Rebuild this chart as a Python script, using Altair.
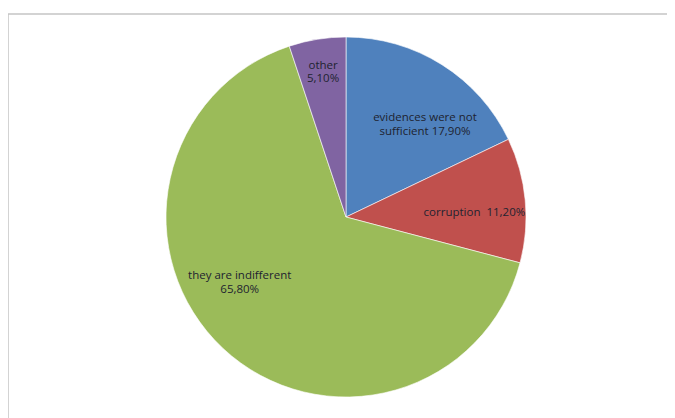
import math
import altair as alt
import pandas as pd

categories = ["evidences were not sufficient", "corruption", "they are indifferent", "other"]
values = [17.9, 11.2, 65.8, 5.1]
labels = ["evidences were not\nsufficient 17,90%", "corruption\u00a0 11,20%",
          "they are indifferent\n65,80%", "other\n5,10%"]
colors = ["#4F81BD", "#C0504D", "#9BBB59", "#8064A2"]

df = pd.DataFrame({"category": categories, "value": values, "label": labels,
                   "order": list(range(len(categories)))})

W, H = 659, 404
CX, CY = 338, 203
R = 180
theta_scale = alt.Scale(domain=[0, 100], range=[0, 2 * math.pi])

base = alt.Chart(df).transform_window(
    cum="sum(value)", sort=[alt.SortField("order")]
).transform_calculate(
    start="datum.cum - datum.value", mid="datum.cum - datum.value / 2"
)

pie = base.mark_arc(outerRadius=R, stroke="white", strokeWidth=0.6).encode(
    theta=alt.Theta("start:Q", scale=theta_scale),
    theta2="cum:Q",
    color=alt.Color("category:N", scale=alt.Scale(domain=categories, range=colors), legend=None),
    x=alt.value(CX), y=alt.value(CY),
)

def label_layer(i, r, dx, dy):
    return base.transform_filter(alt.datum.order == i).mark_text(
        radius=r, dx=dx, dy=dy, lineBreak="\n", font="Open Sans", fontSize=11.5,
        lineHeight=13.5, color="#1e2330", align="center", baseline="middle",
    ).encode(
        theta=alt.Theta("mid:Q", scale=theta_scale),
        text="label:N",
        x=alt.value(CX), y=alt.value(CY),
    )

labels_layers = [
    label_layer(0, 120, 15, 3),
    label_layer(1, 129, 0, 8),
    label_layer(2, 110, -31, -21),
    label_layer(3, 150, 1, -3),
]

border_df = pd.DataFrame({"k": [0]})
left_rule = alt.Chart(border_df).mark_rule(color="#c4c4c4", strokeWidth=1.5).encode(
    x=alt.value(0), y=alt.value(0), y2=alt.value(H))
top_rule = alt.Chart(border_df).mark_rule(color="#c4c4c4", strokeWidth=1.5).encode(
    x=alt.value(0), x2=alt.value(W), y=alt.value(0))

chart = alt.layer(left_rule, top_rule, pie, *labels_layers).properties(
    width=W, height=H,
    padding={"left": 0, "top": 6, "right": 0, "bottom": 0},
    autosize=alt.AutoSizeParams(type="none"),
).configure_view(stroke=None)

chart.save("out.html", embed_options={"renderer": "svg", "actions": False})
